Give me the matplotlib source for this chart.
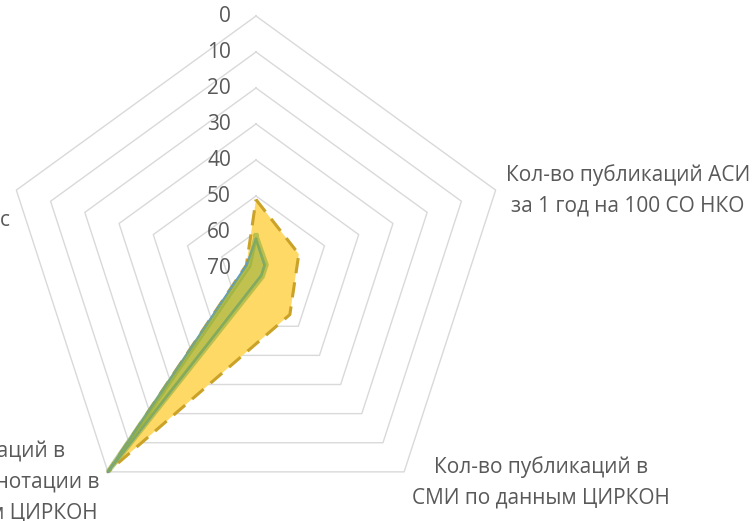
import numpy as np
import matplotlib
matplotlib.use("Agg")
import matplotlib.pyplot as plt

plt.rcParams['font.family'] = ['Open Sans', 'DejaVu Sans']

# ---- data ----
categories = [
    "Кол-во публикаций\nна 100 СО НКО",                     # top (outside the picture)
    "Кол-во публикаций АСИ\nза 1 год на 100 СО НКО",        # right
    "Кол-во публикаций в\nСМИ по данным ЦИРКОН",            # bottom-right
    "Кол-во публикаций в\nСМИ с «НКО» в аннотации в\nв СМИ, по данным ЦИРКОН",  # bottom-left
    "Кол-во СО\nНКО в реестре\nМинюста на 100 тыс",          # left
]
ring_values = [0, 10, 20, 30, 40, 50, 60, 70]
series_yellow = [51, 57.5, 54, 0, 67.2]
series_blue = [62, 67.5, 67.5, 0, 67.3]
series_green = [61, 67, 67, 0, 68]

W, H = 753, 521
fig = plt.figure(figsize=(W / 100, H / 100), dpi=100)
cx, cy, R = 256, 268, 252
ax = fig.add_axes([(cx - R) / W, (H - cy - R) / H, 2 * R / W, 2 * R / H], projection='polar')
ax.set_theta_offset(np.pi / 2)
ax.set_theta_direction(-1)
ax.set_ylim(70, 0)
ax.grid(False)
ax.set_xticks([])
ax.set_yticks([])
ax.spines['polar'].set_visible(False)
ax.patch.set_alpha(0)

n = len(categories)
ang = np.linspace(0, 2 * np.pi, n, endpoint=False)
ang_c = np.append(ang, ang[0])

def closed(v):
    return np.append(np.array(v, float), v[0])

# pentagon grid rings
for rv in ring_values[:-1]:
    ax.plot(ang_c, [rv] * (n + 1), color='#D9D9D9', lw=1.0, zorder=1, clip_on=False)

# yellow series
ax.fill(ang_c, closed(series_yellow), color='#FFD966', zorder=2, lw=0)
ax.plot(ang_c, closed(series_yellow), color='#C9A227', lw=2.2, ls=(0, (5, 3)), zorder=3,
        clip_on=False)

# blue series
ax.plot(ang_c, closed(series_blue), color='#5B9BD5', lw=1.8, zorder=4, clip_on=False)

# green series
ax.fill(ang_c, closed(series_green), color='#8FAF3F', alpha=0.55, zorder=5, lw=0)
ax.plot(ang_c, closed(series_green), color='#8FAF3F', alpha=0.6, lw=3.5, zorder=6,
        solid_joinstyle='miter')

txt = dict(color='#595959', fontsize=15, linespacing=1.6, textcoords='offset pixels',
           annotation_clip=False, multialignment='center')

# radial tick labels
for rv in ring_values:
    ax.annotate(str(rv), xy=(0, rv), xytext=(-25, 0), ha='right', va='center', **txt)

# category labels (top one lies outside the picture)
ax.annotate(categories[1], xy=(ang[1], 0), xytext=(10, 0), ha='left', va='center', **txt)
ax.annotate(categories[2], xy=(ang[2], 0), xytext=(8, -10), ha='left', va='center', **txt)
ax.annotate(categories[3], xy=(ang[3], 0), xytext=(-8, -10), ha='right', va='center', **txt)
ax.annotate(categories[4], xy=(ang[4], 0), xytext=(-6, 0), ha='right', va='center', **txt)

fig.savefig('out.png', dpi=100)
